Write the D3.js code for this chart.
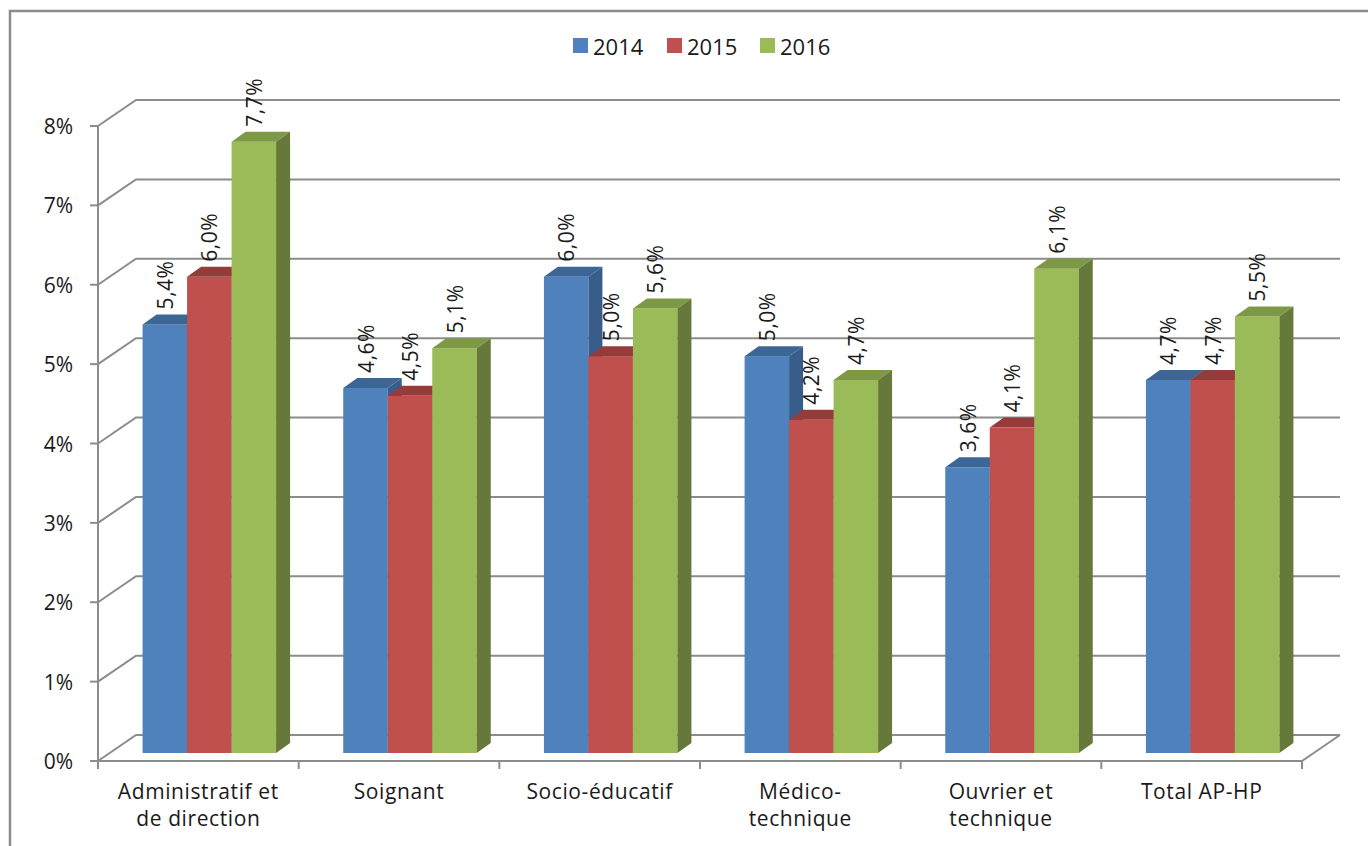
<!DOCTYPE html>
<html>
  <head>
    <meta charset="UTF-8" />
    <title>Taux par filière 2014-2016</title>
    <style>
      body { margin: 0; background: #fff; }
      text { font-family: 'Open Sans', sans-serif; fill: #1a1a1a; }
    </style>
  </head>
  <body>
    <svg width="1368" height="846"></svg>
    <script src="https://cdnjs.cloudflare.com/ajax/libs/d3/7.8.5/d3.min.js"></script>
    <script>
      // data
      const categories = [
        'Administratif et de direction',
        'Soignant',
        'Socio-éducatif',
        'Médico-technique',
        'Ouvrier et technique',
        'Total AP-HP',
      ];
      const categoryLines = [
        ['Administratif et', 'de direction'],
        ['Soignant'],
        ['Socio-éducatif'],
        ['Médico-', 'technique'],
        ['Ouvrier et', 'technique'],
        ['Total AP-HP'],
      ];
      const years = ['2014', '2015', '2016'];
      const values2014 = [5.4, 4.6, 6.0, 5.0, 3.6, 4.7];
      const values2015 = [6.0, 4.5, 5.0, 4.2, 4.1, 4.7];
      const values2016 = [7.7, 5.1, 5.6, 4.7, 6.1, 5.5];
      const yTicks = [0, 1, 2, 3, 4, 5, 6, 7, 8];

      const series = [values2014, values2015, values2016];
      const faceColors = {
        '2014': { front: '#4f81bd', top: '#3c6696', side: '#385d8a' },
        '2015': { front: '#c0504d', top: '#953c3a', side: '#8c3836' },
        '2016': { front: '#9bbb59', top: '#7d9946', side: '#66793a' },
      };

      const svg = d3.select('svg');

      // 3d geometry
      const depth = { dx: 38, dy: -26 };
      const barOff = { dx: 11, dy: -8 };
      const barDepth = { dx: 14, dy: -10 };

      const xScale = d3.scaleBand().domain(categories).range([98, 1302]);
      const yScale = d3.scaleLinear().domain([0, 8]).range([761, 126]);
      const groupWidth = 133.5;
      const xInner = d3.scaleBand().domain(years).range([0, groupWidth]);

      const gray = '#8c8c8c';

      // chart frame
      svg.append('path')
        .attr('d', 'M10,900 L10,11 L1380,11')
        .attr('fill', 'none')
        .attr('stroke', gray)
        .attr('stroke-width', 2.5);

      // walls and grid
      const grid = svg.append('g')
        .attr('stroke', gray)
        .attr('stroke-width', 2)
        .attr('fill', 'none');

      const xL = xScale.range()[0];
      const xR = xScale.range()[1];

      yTicks.forEach((t) => {
        const y = yScale(t);
        grid.append('path')
          .attr('d', `M${xL},${y} L${xL + depth.dx},${y + depth.dy} L${xR + depth.dx},${y + depth.dy}`);
        grid.append('line')
          .attr('x1', xL - 8).attr('x2', xL)
          .attr('y1', y).attr('y2', y);
      });

      // floor front edge and right side
      const y0 = yScale(0);
      grid.append('path')
        .attr('d', `M${xL},${y0} L${xR},${y0} L${xR + depth.dx},${y0 + depth.dy}`);
      // vertical axis
      grid.append('line')
        .attr('x1', xL).attr('x2', xL)
        .attr('y1', yScale(0)).attr('y2', yScale(8));
      // category ticks
      const bounds = categories.map((c) => xScale(c)).concat([xR]);
      bounds.forEach((b) => {
        grid.append('line')
          .attr('x1', b).attr('x2', b)
          .attr('y1', y0).attr('y2', y0 + 8);
      });

      // y tick labels
      svg.append('g')
        .selectAll('text')
        .data(yTicks)
        .join('text')
        .attr('x', 73)
        .attr('y', (d) => yScale(d))
        .attr('text-anchor', 'end')
        .attr('dominant-baseline', 'central')
        .attr('font-size', 21)
        .text((d) => d + '%');

      // category labels
      const catG = svg.append('g');
      categories.forEach((c, i) => {
        const cx = xScale(c) + xScale.bandwidth() / 2;
        const t = catG.append('text')
          .attr('text-anchor', 'middle')
          .attr('font-size', 21)
          .attr('letter-spacing', 0.6);
        categoryLines[i].forEach((line, j) => {
          t.append('tspan')
            .attr('x', cx)
            .attr('y', 799 + j * 27)
            .text(line);
        });
      });

      // bars
      const barsG = svg.append('g');
      const fmt = (v) => v.toFixed(1).replace('.', ',') + '%';

      categories.forEach((c, ci) => {
        const gx = xScale(c) + (xScale.bandwidth() - groupWidth) / 2 + barOff.dx;
        years.forEach((yr, si) => {
          const v = series[si][ci];
          const x0 = gx + xInner(yr);
          const x1 = x0 + xInner.bandwidth();
          const yb = yScale(0) + barOff.dy;
          const yt = yScale(v) + barOff.dy;
          const col = faceColors[yr];
          const g = barsG.append('g');

          g.append('rect')
            .attr('x', x0)
            .attr('y', yt)
            .attr('width', x1 - x0)
            .attr('height', yb - yt)
            .attr('fill', col.front);
          g.append('path')
            .attr('d', `M${x0},${yt} L${x0 + barDepth.dx},${yt + barDepth.dy} L${x1 + barDepth.dx},${yt + barDepth.dy} L${x1},${yt} Z`)
            .attr('fill', col.top);
          g.append('path')
            .attr('d', `M${x1},${yt} L${x1 + barDepth.dx},${yt + barDepth.dy} L${x1 + barDepth.dx},${yb + barDepth.dy} L${x1},${yb} Z`)
            .attr('fill', col.side);
        });
      });

      // data labels
      const labG = svg.append('g');
      categories.forEach((c, ci) => {
        const gx = xScale(c) + (xScale.bandwidth() - groupWidth) / 2 + barOff.dx;
        years.forEach((yr, si) => {
          const v = series[si][ci];
          const cx = gx + xInner(yr) + xInner.bandwidth() / 2;
          const ty = yScale(v) + barOff.dy + barDepth.dy - 5;
          labG.append('text')
            .attr('transform', `translate(${cx},${ty}) rotate(-90)`)
            .attr('dominant-baseline', 'central')
            .attr('font-size', 21)
            .attr('letter-spacing', 0.5)
            .text(fmt(v));
        });
      });

      // legend
      const legend = svg.append('g').attr('transform', 'translate(573,38)');
      const legX = [0, 94, 187];
      years.forEach((yr, i) => {
        legend.append('rect')
          .attr('x', legX[i])
          .attr('y', 0)
          .attr('width', 15)
          .attr('height', 15)
          .attr('fill', faceColors[yr].front);
        legend.append('text')
          .attr('x', legX[i] + 20)
          .attr('y', 7.5)
          .attr('dominant-baseline', 'central')
          .attr('font-size', 22)
          .text(yr);
      });
    </script>
  </body>
</html>
